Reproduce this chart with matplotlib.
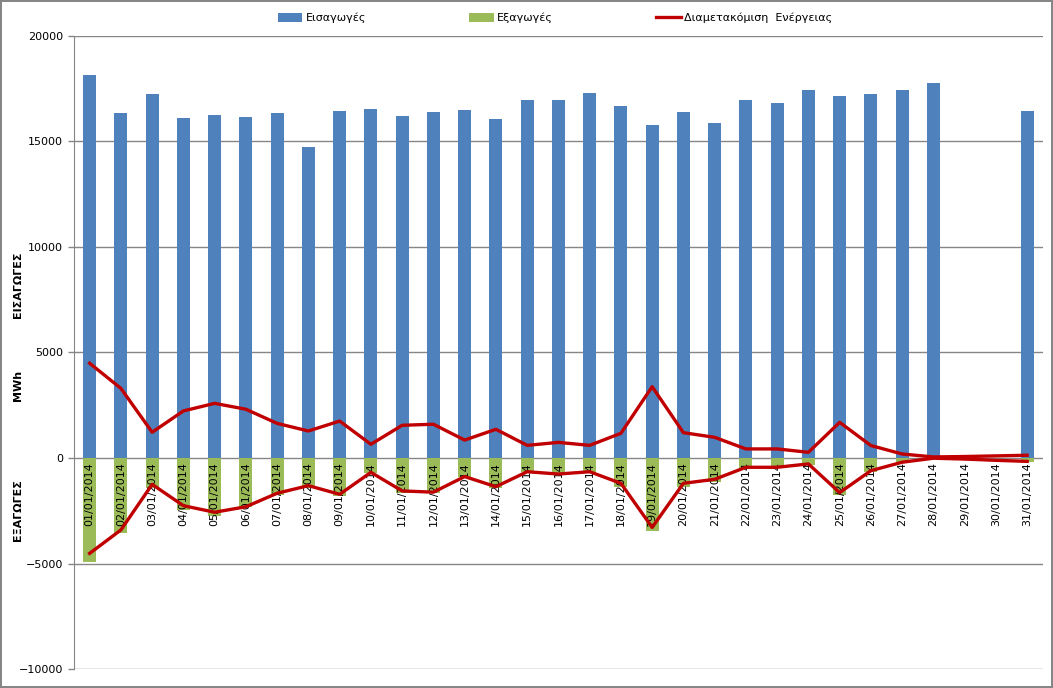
import numpy as np
import matplotlib
matplotlib.use("Agg")
import matplotlib.pyplot as plt

# daily values, January 2014 (MWh)
dates = ["%02d/01/2014" % d for d in range(1, 32)]
imports = [18150, 16350, 17250, 16110, 16260, 16160, 16350, 14740, 16450, 16540,
           16210, 16400, 16490, 16070, 16970, 16970, 17300, 16680, 15780, 16400,
           15880, 16970, 16820, 17440, 17160, 17250, 17440, 17770, 0, 0, 16450]
exports = [-4910, -3540, -1400, -2460, -2730, -2300, -1750, -1440, -1790, -730,
           -1640, -1640, -880, -1400, -650, -800, -650, -1360, -3440, -1360,
           -1120, -460, -490, -330, -1750, -650, -170, -30, 0, 0, -170]
transit_in = [4490, 3300, 1220, 2230, 2590, 2310, 1640, 1280, 1750, 650,
              1550, 1600, 850, 1360, 600, 740, 600, 1170, 3380, 1200,
              980, 430, 430, 270, 1690, 590, 190, 50, 70, 100, 130]
transit_out = [-4520, -3410, -1250, -2260, -2570, -2310, -1670, -1310, -1720, -680,
               -1560, -1620, -880, -1360, -650, -760, -650, -1200, -3290, -1200,
               -1010, -440, -440, -280, -1640, -600, -200, -10, -50, -110, -160]

BLUE = "#4F81BD"; GREEN = "#9BBB59"; RED = "#C00000"; GRID = "#868686"

plt.rcParams["font.family"] = ["DejaVu Sans"]
fig = plt.figure(figsize=(10.53, 6.88), dpi=100)
fig.patch.set_edgecolor(GRID); fig.patch.set_linewidth(1.5)
ax = fig.add_axes([0.0703, 0.0276, 0.92, 0.9201])

x = np.arange(len(dates))
b1 = ax.bar(x, imports, width=0.42, color=BLUE, label="Εισαγωγές", zorder=2)
b2 = ax.bar(x, exports, width=0.42, color=GREEN, label="Εξαγωγές", zorder=2)
for i, d in enumerate(dates):
    ax.text(i, -180, d, rotation=90, ha="center", va="top", fontsize=8, zorder=3)
l1, = ax.plot(x, transit_in, color=RED, lw=2.4, label="Διαμετακόμιση  Ενέργειας", zorder=4)
ax.plot(x, transit_out, color=RED, lw=2.4, zorder=4)

ax.set_xlim(-0.5, len(dates) - 0.5)
ax.set_ylim(-10000, 20000)
ax.set_yticks(range(-10000, 20001, 5000))
ax.set_xticks([])
ax.tick_params(axis="y", direction="out", length=4, width=1, color=GRID, pad=4, labelsize=8)
ax.yaxis.grid(True, color=GRID, lw=1, zorder=1)
ax.set_axisbelow(True)
for s in ["top", "right", "bottom"]:
    ax.spines[s].set_visible(False)
ax.spines["left"].set_color(GRID)

fig.text(0.017, 1 - 285 / 688, "ΕΙΣΑΓΩΓΕΣ", rotation=90, ha="center", va="center",
         fontsize=8, fontweight="bold")
fig.text(0.017, 1 - 385 / 688, "MWh", rotation=90, ha="center", va="center",
         fontsize=8, fontweight="bold")
fig.text(0.017, 1 - 510 / 688, "ΕΞΑΓΩΓΕΣ", rotation=90, ha="center", va="center",
         fontsize=8, fontweight="bold")

fig.legend([b1, b2, l1], ["Εισαγωγές", "Εξαγωγές", "Διαμετακόμιση  Ενέργειας"],
           loc="center", bbox_to_anchor=(0.527, 0.974), ncol=3, frameon=False,
           fontsize=8, columnspacing=9.3, handlelength=2.2, handleheight=0.8,
           handletextpad=0.3)

fig.savefig("out.png", dpi=100)
